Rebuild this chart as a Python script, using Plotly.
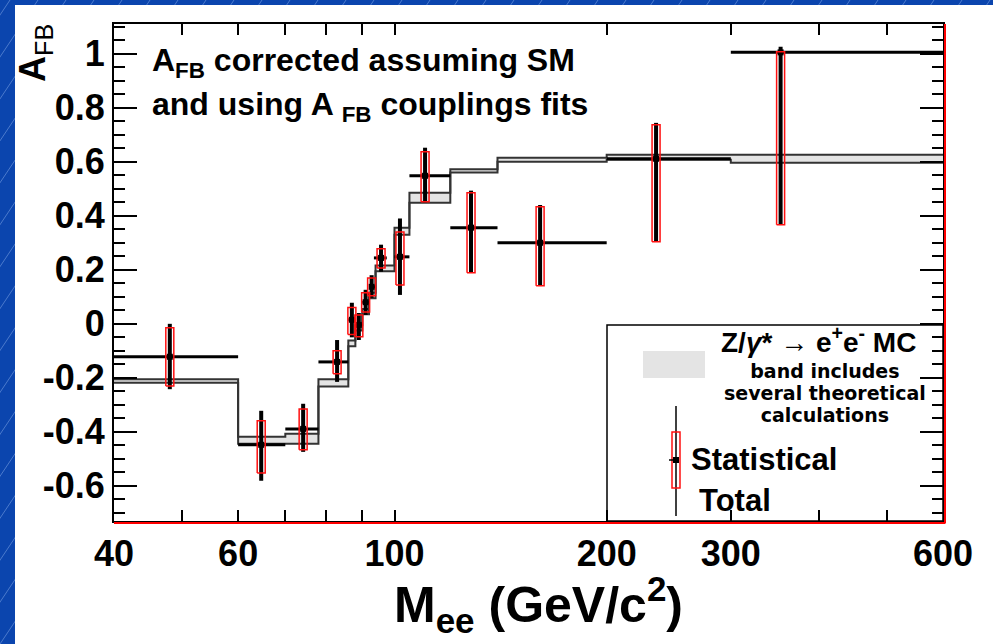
import math
import plotly.graph_objects as go

# ---- MC prediction band: bin edges (GeV/c^2) and lower/upper edge per bin ----
mc_edges = [40, 60, 70, 78, 86, 88, 90, 92, 94, 100, 105, 120, 140, 200, 300, 600]
mc_low = [-0.218, -0.444, -0.444, -0.232, -0.083, -0.025, 0.035, 0.095, 0.195,
          0.330, 0.448, 0.560, 0.600, 0.607, 0.596]
mc_high = [-0.205, -0.418, -0.407, -0.205, -0.062, -0.005, 0.055, 0.115, 0.216,
           0.356, 0.485, 0.572, 0.615, 0.626, 0.626]

# ---- Measured A_FB per mass bin ----
m_center = [48.0, 64.7, 74.2, 82.9, 87.0, 89.0, 91.0, 92.8, 95.7, 101.8,
            110.5, 128.4, 160.9, 235.0, 353.0]
m_low = [40, 60, 70, 78, 86, 88, 90, 92, 93.5, 100, 105, 120, 140, 200, 300]
m_high = [60, 70, 78, 86, 88, 90, 92, 94, 97.5, 105, 120, 140, 200, 300, 600]
afb = [-0.122, -0.448, -0.389, -0.141, 0.015, -0.004, 0.080, 0.137, 0.244, 0.248,
       0.548, 0.356, 0.300, 0.611, 1.005]
tot_lo = [-0.242, -0.581, -0.474, -0.215, -0.050, -0.060, 0.033, 0.096, 0.193, 0.107,
          0.450, 0.189, 0.141, 0.304, 0.367]
tot_hi = [0.000, -0.322, -0.296, -0.060, 0.078, 0.040, 0.126, 0.180, 0.293, 0.390,
          0.652, 0.493, 0.440, 0.744, 1.026]
stat_lo = [-0.230, -0.552, -0.466, -0.185, -0.040, -0.048, 0.044, 0.104, 0.207, 0.144,
           0.452, 0.189, 0.141, 0.304, 0.367]
stat_hi = [-0.015, -0.359, -0.315, -0.100, 0.060, 0.033, 0.115, 0.170, 0.278, 0.340,
           0.637, 0.485, 0.433, 0.737, 1.007]

# ---- axis ticks ----
x_label_vals = [40, 60, 100, 200, 300, 600]
x_label_text = ["40", "60", "100", "200", "300", "600"]
x_minor_vals = [50, 70, 80, 90, 400, 500]
x_long_vals = [100, 200]
y_tick_vals = [-0.6, -0.4, -0.2, 0, 0.2, 0.4, 0.6, 0.8, 1.0]
y_tick_text = ["-0.6", "-0.4", "-0.2", "0", "0.2", "0.4", "0.6", "0.8", "1"]
X_RANGE = [40, 600]
Y_RANGE = [-0.73, 1.11]

# ---- page geometry ----
FIG_W, FIG_H = 993, 644
M_L, M_R, M_T, M_B = 114, 50, 24, 123
PW = FIG_W - M_L - M_R
PH = FIG_H - M_T - M_B


def px_x(px):
    return (px - M_L) / PW


def px_y(py):
    return (FIG_H - M_B - py) / PH


FONT = "Liberation Sans, Arial, sans-serif"
WIDE = "DejaVu Sans, Verdana, sans-serif"
BLUE = "#0b45ae"

fig = go.Figure()

# MC band: lower edge, then upper edge filled down to it
fig.add_trace(go.Scatter(
    x=mc_edges, y=mc_low + [mc_low[-1]], mode="lines", line_shape="hv",
    line=dict(color="#333333", width=2), hoverinfo="skip", showlegend=False))
fig.add_trace(go.Scatter(
    x=mc_edges, y=mc_high + [mc_high[-1]], mode="lines", line_shape="hv",
    line=dict(color="#333333", width=2), fill="tonexty", fillcolor="#e4e4e4",
    hoverinfo="skip", showlegend=False))

# Data points with bin-width bars and total uncertainties
fig.add_trace(go.Scatter(
    x=m_center, y=afb, mode="markers",
    marker=dict(symbol="square", size=6, color="black"),
    error_x=dict(type="data", symmetric=False,
                 array=[h - c for h, c in zip(m_high, m_center)],
                 arrayminus=[c - l for c, l in zip(m_center, m_low)],
                 color="black", thickness=3, width=0),
    error_y=dict(type="data", symmetric=False,
                 array=[h - v for h, v in zip(tot_hi, afb)],
                 arrayminus=[v - l for v, l in zip(afb, tot_lo)],
                 color="black", thickness=4, width=0),
    hoverinfo="skip", showlegend=False))

# Statistical uncertainty boxes: fixed 8 px wide on the log axis
half = 10 ** (4.0 / PW * math.log10(X_RANGE[1] / X_RANGE[0]))
box_x, box_y = [], []
for c, lo, hi in zip(m_center, stat_lo, stat_hi):
    box_x += [c / half, c * half, c * half, c / half, c / half, None]
    box_y += [lo, lo, hi, hi, lo, None]
fig.add_trace(go.Scatter(
    x=box_x, y=box_y, mode="lines", line=dict(color="#ff1010", width=1.5),
    hoverinfo="skip", showlegend=False))

shapes = []

# blue slide background with faint diagonal streaks, white panel on top
for k in range(-20, 45):
    x0 = k * 28
    x1 = x0 + 430
    shapes.append(dict(type="line", xref="paper", yref="paper", layer="below",
                       x0=px_x(x0), y0=px_y(FIG_H), x1=px_x(x1), y1=px_y(0),
                       line=dict(color="rgba(140,175,235,0.5)", width=1)))
shapes.append(dict(type="rect", xref="paper", yref="paper", layer="below",
                   x0=px_x(15), x1=px_x(FIG_W + 5), y0=px_y(FIG_H + 5), y1=px_y(5),
                   fillcolor="white", line=dict(width=0)))

# red rule along the bottom and right frame edges
shapes.append(dict(type="line", xref="paper", yref="paper", ysizemode="pixel",
                   yanchor=0, x0=0, x1=1.003, y0=-2, y1=-2, layer="above",
                   line=dict(color="#ff0000", width=2)))
shapes.append(dict(type="line", xref="paper", yref="paper", xsizemode="pixel",
                   xanchor=1, y0=-0.004, y1=1, x0=2, x1=2, layer="above",
                   line=dict(color="#ff0000", width=2)))

# legend box and its samples
shapes.append(dict(type="rect", xref="paper", yref="paper", layer="above",
                   x0=px_x(607), x1=1, y0=0, y1=px_y(325),
                   line=dict(color="black", width=1.5)))
shapes.append(dict(type="rect", xref="paper", yref="paper", layer="above",
                   x0=px_x(643), x1=px_x(705), y0=px_y(378), y1=px_y(351),
                   fillcolor="#e4e4e4", line=dict(width=0)))
shapes.append(dict(type="line", xref="paper", yref="paper", layer="above",
                   x0=px_x(676), x1=px_x(676), y0=px_y(516), y1=px_y(406),
                   line=dict(color="black", width=1.5)))
shapes.append(dict(type="rect", xref="paper", yref="paper", layer="above",
                   x0=px_x(672), x1=px_x(680), y0=px_y(488), y1=px_y(432),
                   line=dict(color="#ff1010", width=1.5)))
shapes.append(dict(type="rect", xref="paper", yref="paper", layer="above",
                   x0=px_x(673), x1=px_x(679), y0=px_y(463), y1=px_y(457),
                   fillcolor="black", line=dict(width=0)))
shapes.append(dict(type="line", xref="paper", yref="paper", layer="above",
                   x0=px_x(669), x1=px_x(676), y0=px_y(460), y1=px_y(460),
                   line=dict(color="black", width=1.5)))


def note(text, px, py, size, xanchor="left", angle=0, family=FONT):
    return dict(text=text, xref="paper", yref="paper", x=px_x(px), y=px_y(py),
                xanchor=xanchor, yanchor="middle", showarrow=False,
                textangle=angle, font=dict(family=family, size=size, color="black"))


# the three band-description lines sit closer together than the default
# line spacing, so they share one block with a smaller base size
band_lines = "<br>".join(
    "<span style='font-size:19px'><b>%s</b></span>" % s
    for s in ["band includes", "several theoretical", "calculations"])

annotations = [
    note("<b>A<sub>FB</sub> corrected assuming SM</b>", 150, 63, 32),
    note("<b>and using A <sub>FB</sub> couplings fits</b>", 150, 107, 32),
    note("<b>Z/<i>γ</i>* → e<sup>+</sup>e<sup>-</sup> MC</b>", 818, 340, 28, "center"),
    note(band_lines, 825, 393, 17, "center", family=WIDE),
    note("<b>Statistical</b>", 689, 459, 31),
    note("<b>Total</b>", 697, 500, 31),
    note("<b>M<sub>ee</sub> (GeV/c<sup>2</sup>)</b>", 538, 604, 50, "center"),
    note("<b>A</b><sub>FB</sub>", 35, 53, 36, "center", angle=-90),
]

fig.update_layout(
    width=FIG_W, height=FIG_H,
    margin=dict(l=M_L, r=M_R, t=M_T, b=M_B, pad=0),
    paper_bgcolor=BLUE, plot_bgcolor="white",
    shapes=shapes, annotations=annotations, showlegend=False,
    xaxis=dict(type="log", range=[math.log10(X_RANGE[0]), math.log10(X_RANGE[1])],
               tickmode="array", tickvals=x_label_vals, ticktext=x_label_text,
               ticks="inside", ticklen=11, tickwidth=1.5, tickcolor="black",
               minor=dict(tickmode="array", tickvals=x_minor_vals, ticks="inside",
                          ticklen=11, tickwidth=1.5, tickcolor="black", showgrid=False),
               showline=True, linecolor="black", linewidth=2, mirror="allticks",
               showgrid=False, zeroline=False,
               tickfont=dict(family=FONT, size=36, color="black", weight="bold")),
    xaxis2=dict(type="log", overlaying="x", anchor="y",
                range=[math.log10(X_RANGE[0]), math.log10(X_RANGE[1])],
                tickmode="array", tickvals=x_long_vals, ticks="inside", ticklen=22,
                tickwidth=1.5, tickcolor="black", showticklabels=False,
                showline=False, mirror="ticks", showgrid=False, zeroline=False),
    yaxis=dict(range=Y_RANGE, tickmode="array", tickvals=y_tick_vals,
               ticktext=y_tick_text, ticks="inside", ticklen=23, tickwidth=1.5,
               tickcolor="black",
               minor=dict(dtick=0.05, tick0=0, ticks="inside", ticklen=11,
                          tickwidth=1.5, tickcolor="black", showgrid=False),
               showline=True, linecolor="black", linewidth=2, mirror="allticks",
               showgrid=False, zeroline=False, ticklabelstandoff=0,
               tickfont=dict(family=FONT, size=36, color="black", weight="bold")),
)

fig.write_html("out.html")
